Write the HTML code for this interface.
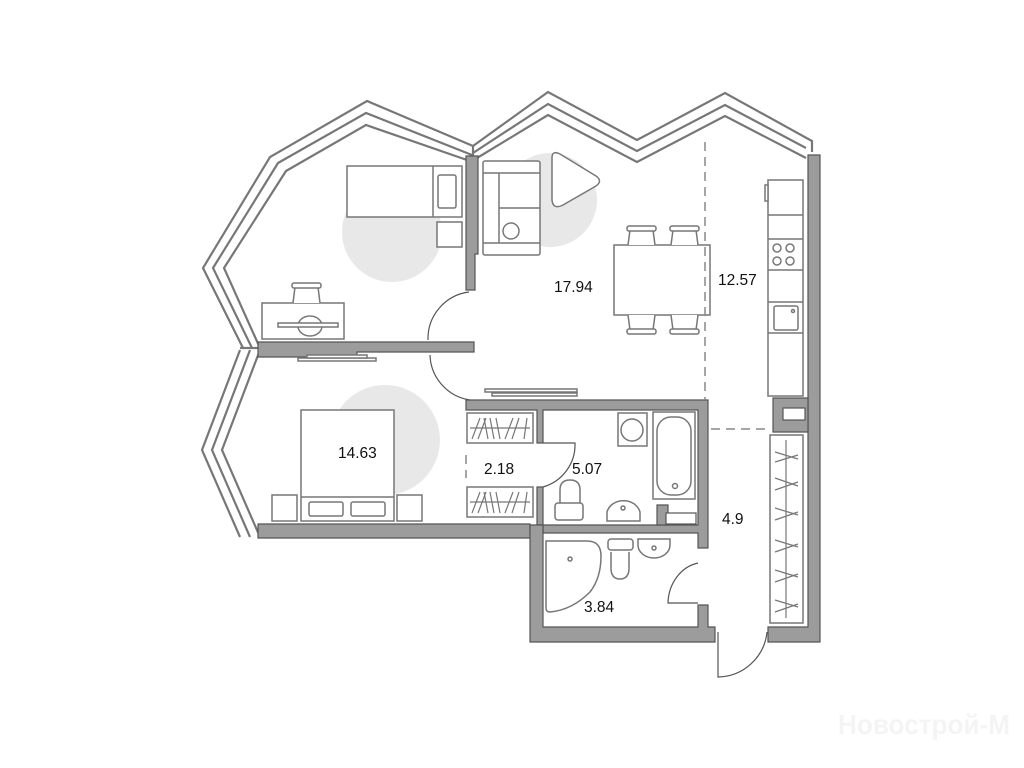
<!DOCTYPE html>
<html><head><meta charset="utf-8"><style>
html,body{margin:0;padding:0;background:#fff;}
svg{display:block}
text{font-family:"Liberation Sans",sans-serif;}
</style></head><body>
<svg width="1024" height="768" viewBox="0 0 1024 768" xmlns="http://www.w3.org/2000/svg">
<rect width="1024" height="768" fill="#fff"/>
<g fill="#e8e8e8">
<circle cx="392" cy="232" r="50"/>
<circle cx="550" cy="200" r="47"/>
<circle cx="385" cy="440" r="55"/>
</g>
<g fill="none" stroke="#777" stroke-width="2.2">
<polyline points="243,348 203,268 270,157 367,101 473,146"/>
<polyline points="252,348 213,268 278,163 366,113 472,155"/>
<polyline points="260,348 224,268 286,171 366,125 467,160"/>
<polyline points="240,350 202,450 240,537"/>
<polyline points="250,350 212,450 250,537"/>
<polyline points="260,350 222,450 260,537"/>
<polyline points="473,146 548,92 637,140 725,93 812,141 812,152"/>
<polyline points="473,153 548,104 637,151 725,105 806,148"/>
<polyline points="477,158 548,115 637,162 725,116 806,158"/>
<line x1="473" y1="146" x2="473" y2="158"/>
<line x1="240" y1="348" x2="260" y2="348"/>
</g>
<g fill="#9c9c9c" stroke="#555" stroke-width="1.2">
<path d="M466,156 H478 V254 H475 V290 H466 Z"/>
<path d="M258,342 H474 V352 H357 V357 H258 Z"/>
<path d="M808,155 H820 V642 H768 V627 H808 Z"/>
<path d="M773,398 H808 V432 H773 Z"/>
<path d="M258,524 H530 V538 H258 Z"/>
<path d="M466,400 H708 V548 H698 V533 H543 V525 H537 V487 H543 V525 H698 V410 H543 V443 H537 V410 H466 Z"/>
<path d="M657,505 H668 V525 H657 Z"/>
<path d="M530,525 H543 V627 H698 V605 H708 V627 H715 V642 H530 Z"/>
</g>
<rect x="783" y="408" width="22" height="12" fill="#fff" stroke="#555" stroke-width="1.2"/>
<rect x="666" y="513" width="30" height="11" fill="#fff" stroke="#555" stroke-width="1.2"/>
<g fill="#fff" stroke="#777" stroke-width="1.5">
<rect x="347" y="166" width="115" height="51"/>
<line x1="433" y1="166" x2="433" y2="217"/>
<rect x="438" y="175" width="18" height="33" rx="2"/>
<rect x="437" y="222" width="25" height="25"/>
<rect x="262" y="303" width="82" height="36"/>
<path d="M293,303 L295,287 H318 L320,303"/>
<rect x="292" y="283" width="29" height="5" rx="2"/>
<path d="M298,326 a12,10 0 0 1 24,0 M298,326 a12,10 0 0 0 24,0"/>
<rect x="278" y="323" width="60" height="4"/>
<rect x="298" y="358" width="78" height="3"/>
<rect x="307" y="355" width="60" height="3"/>
<rect x="483" y="161" width="57" height="94" rx="2"/>
<line x1="483" y1="173" x2="540" y2="173"/>
<line x1="483" y1="243" x2="540" y2="243"/>
<line x1="499" y1="173" x2="499" y2="243"/>
<line x1="499" y1="208" x2="540" y2="208"/>
<circle cx="511" cy="231" r="8"/>
<path d="M552,158 Q552,150 560,154 L596,176 Q603,181 596,186 L563,205 Q553,210 552,200 Z"/>
<rect x="614" y="245" width="96" height="70"/>
<path d="M628,245 L630,230 H653 L655,245 M671,245 L673,230 H696 L698,245"/>
<rect x="627" y="226" width="29" height="5" rx="2"/>
<rect x="670" y="226" width="29" height="5" rx="2"/>
<path d="M628,315 L630,330 H653 L655,315 M671,315 L673,330 H696 L698,315"/>
<rect x="627" y="329" width="29" height="5" rx="2"/>
<rect x="670" y="329" width="29" height="5" rx="2"/>
<rect x="768" y="180" width="35" height="216"/>
<line x1="768" y1="215" x2="803" y2="215"/>
<line x1="768" y1="239" x2="803" y2="239"/>
<line x1="768" y1="270" x2="803" y2="270"/>
<line x1="768" y1="302" x2="803" y2="302"/>
<line x1="768" y1="333" x2="803" y2="333"/>
<rect x="765" y="185" width="3" height="16"/>
<circle cx="777" cy="248" r="4"/><circle cx="790" cy="248" r="4"/>
<circle cx="777" cy="261" r="4"/><circle cx="790" cy="261" r="4"/>
<rect x="774" y="306" width="24" height="24" rx="2"/>
<circle cx="793" cy="311" r="1.5"/>
<rect x="301" y="410" width="93" height="111"/>
<line x1="301" y1="497" x2="394" y2="497"/>
<rect x="309" y="502" width="34" height="14" rx="2"/>
<rect x="351" y="502" width="34" height="14" rx="2"/>
<rect x="272" y="495" width="25" height="26"/>
<rect x="397" y="495" width="25" height="26"/>
<rect x="485" y="389" width="92" height="3"/>
<rect x="492" y="393" width="85" height="3"/>
<rect x="467" y="413" width="66" height="30"/>
<rect x="467" y="487" width="66" height="30"/>
<rect x="770" y="435" width="33" height="188"/>
<rect x="618" y="413" width="29" height="33"/>
<circle cx="632" cy="430" r="11"/>
<rect x="653" y="412" width="42" height="87"/>
<rect x="657" y="417" width="34" height="78" rx="14"/>
<circle cx="675" cy="486" r="2.5"/>
<path d="M560,503 V490 Q560,480 570,480 Q580,480 580,490 V503"/>
<rect x="555" y="503" width="28" height="17" rx="3"/>
<path d="M607,521 V512 A17,15 0 0 1 640,512 V521 Z"/>
<circle cx="623" cy="508" r="2"/>
<path d="M546,541 H587 Q601,541 601,556 Q601,578 590,592 Q572,610 550,612 Q546,612 546,608 Z"/>
<circle cx="570" cy="559" r="2"/>
<rect x="608" y="539" width="25" height="11" rx="3"/>
<path d="M611,552 V568 Q611,579 620,579 Q629,579 629,568 V552"/>
<path d="M638,539 H670 V545 A16,13 0 0 1 638,545 Z"/>
<circle cx="654" cy="548" r="2"/>
</g>
<g stroke="#777" stroke-width="1.2">
<path d="M472,439 L480,418 M478,439 L486,418 M488,439 L484,418 M494,439 L490,418 M500,439 L496,418 M505,439 L513,418 M512,439 L519,418 M524,439 L527,418 M470,428 H530"/>
<path d="M472,513 L480,492 M478,513 L486,492 M488,513 L484,492 M494,513 L490,492 M500,513 L496,492 M505,513 L513,492 M512,513 L519,492 M524,513 L527,492 M470,502 H530"/>
<path d="M786,440 V618 M775,452 L798,459 M775,462 L798,455 M775,478 L798,486 M775,490 L798,482 M775,508 L798,515 M775,520 L798,512 M775,540 L798,547 M775,552 L798,544 M775,570 L798,577 M775,582 L798,574 M775,600 L798,607 M775,612 L798,604"/>
</g>
<g fill="none" stroke="#555" stroke-width="1.2">
<path d="M469,292 A47,47 0 0 0 428,340"/>
<path d="M430,355 A47,47 0 0 0 470,400"/>
<path d="M543,443 H575 A44,44 0 0 1 543,487"/>
<path d="M698,563 A37,42 0 0 0 668,603 H698"/>
<path d="M718,632 V677 A50,50 0 0 0 767,632"/>
</g>
<g stroke="#888" stroke-width="1.5" stroke-dasharray="9,6" fill="none">
<line x1="705" y1="142" x2="705" y2="400"/>
<line x1="711" y1="429" x2="770" y2="429"/>
<line x1="466" y1="455" x2="466" y2="478"/>
</g>
<g font-size="15.5" fill="#111">
<text x="554" y="292">17.94</text>
<text x="718" y="285">12.57</text>
<text x="338" y="458">14.63</text>
<text x="484" y="474">2.18</text>
<text x="572" y="474">5.07</text>
<text x="722" y="524">4.9</text>
<text x="584" y="612">3.84</text>
</g>
<text x="838" y="734" font-size="28" fill="#f4f4f4" font-weight="bold" textLength="172" lengthAdjust="spacingAndGlyphs">Новострой-М</text>
</svg>
</body></html>
